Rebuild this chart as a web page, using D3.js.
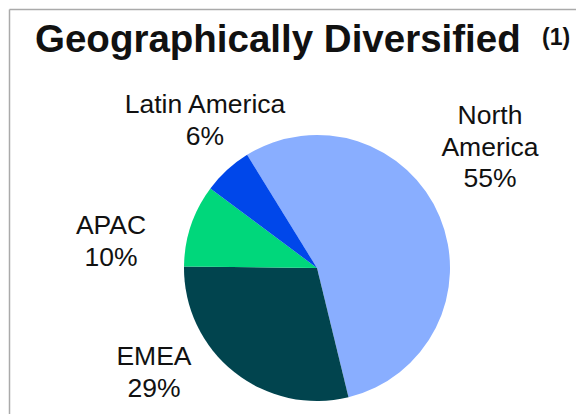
<!DOCTYPE html>
<head>
  <meta charset="utf-8">
  <title>Geographically Diversified</title>
  <script src="https://d3js.org/d3.v7.min.js"></script>
  <style>
    body { margin: 0; background: #fff; }
    #pie-svg { width: 576px; height: 414px; display: block; }
    text { font-family: "Liberation Sans", Arial, sans-serif; fill: #111; }
  </style>
</head>
<body>
  <svg id="pie-svg"></svg>
  <script>
    var width = 576;
    var height = 414;

    // regions, clockwise from the Latin America / North America edge
    var regions = ["North America", "EMEA", "APAC", "Latin America"];
    var shares = [55, 29, 10, 6];
    var colors = ["#89aeff", "#01444e", "#00d77b", "#0047ea"];
    // label lines and where they sit
    var labelLines = [["North", "America", "55%"], ["EMEA", "29%"], ["APAC", "10%"], ["Latin America", "6%"]];
    var labelPos = [[490, 124], [154, 365], [111, 234], [205, 113]];

    var svg = d3.select("#pie-svg")
      .attr("viewBox", "0 0 " + width + " " + height);

    // frame lines
    svg.append("line")
      .attr("x1", 9.5).attr("y1", 9.5).attr("x2", width).attr("y2", 9.5)
      .attr("stroke", "#aaa").attr("stroke-width", 1.5);
    svg.append("line")
      .attr("x1", 9.5).attr("y1", 9.5).attr("x2", 9.5).attr("y2", height)
      .attr("stroke", "#aaa").attr("stroke-width", 1.5);

    // title
    svg.append("text")
      .attr("x", 35).attr("y", 52)
      .style("font-weight", "bold")
      .style("font-size", "38.5px")
      .text("Geographically Diversified");
    svg.append("text")
      .attr("x", 542).attr("y", 45)
      .style("font-weight", "bold")
      .style("font-size", "23px")
      .text("(1)");

    var cx = 317, cy = 268, r = 133;
    var startAngle = -31.7 * Math.PI / 180;

    var pie = d3.pie().sort(null)
      .startAngle(startAngle)
      .endAngle(startAngle + 2 * Math.PI);
    var arc = d3.arc().innerRadius(0).outerRadius(r);

    var data = regions.map(function(d, i) { return { name: d, value: shares[i] }; });

    svg.append("g")
      .attr("transform", "translate(" + cx + "," + cy + ")")
      .selectAll("path")
      .data(pie.value(function(d) { return d.value; })(data))
      .enter()
      .append("path")
      .attr("d", arc)
      .attr("fill", function(d, i) { return colors[i]; });

    // labels
    labelLines.forEach(function(lines, i) {
      var t = svg.append("text")
        .attr("text-anchor", "middle")
        .style("font-size", "26.5px");
      lines.forEach(function(line, j) {
        t.append("tspan")
          .attr("x", labelPos[i][0])
          .attr("y", labelPos[i][1] + j * 31.5)
          .text(line);
      });
    });
  </script>
</body>
</html>
